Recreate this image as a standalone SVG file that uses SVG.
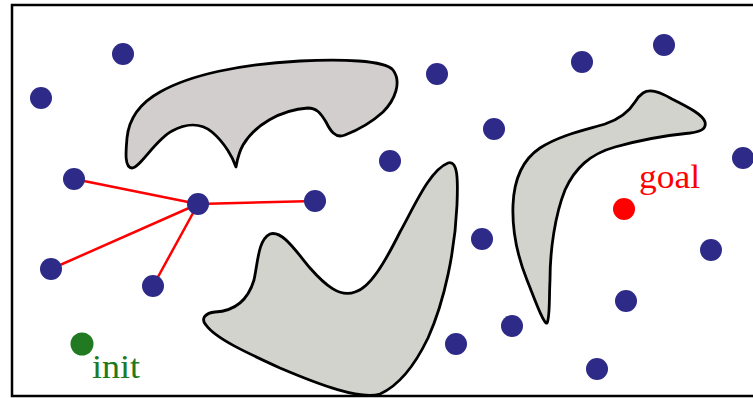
<svg xmlns="http://www.w3.org/2000/svg" width="753" height="398" viewBox="0 0 753 398">
<style>
.n{fill:#2e2b88}
.e{stroke:#ff0000;stroke-width:2.5;fill:none}
.ob1{fill:#d3cece;stroke:#000;stroke-width:2.8;stroke-linejoin:round}
.ob2{fill:#d3d3cd;stroke:#000;stroke-width:2.8;stroke-linejoin:round}
.lbl{font-family:"Liberation Serif",serif;font-size:34px}
</style>
<rect x="0" y="0" width="753" height="398" fill="#fff"/>
<rect x="12" y="5" width="760" height="391" fill="none" stroke="#000" stroke-width="2.5"/>
<g id="obstacles">
<path class="ob1" d="M132,168 C124,168 126,150 127,138 C129,118 140,103 160,92 C190,75 240,64 300,61 C340,59 385,60 393,70 C402,82 395,100 383,112 C372,122 358,130 345,135 C335,139 330,130 326,122 C320,112 316,108 308,108 C280,110 255,125 243,145 C238,154 237,162 236,167 C233,158 225,143 212,132 C200,122 185,124 172,131 C155,140 140,168 132,168 Z"/>
<path class="ob2" d="M448,163 C458,160 458,180 457,205 C455,250 445,300 428,338 C415,365 400,385 380,394 C360,400 320,385 280,368 C245,352 215,338 206,325 C200,318 206,313 215,312 C235,311 248,300 254,280 C258,262 258,240 270,234 C282,230 295,250 310,268 C325,285 340,298 355,292 C370,288 385,262 400,232 C415,205 430,170 448,163 Z"/>
<path class="ob2" d="M643,93 C650,88 660,92 672,99 C690,108 703,115 705,122 C707,130 698,132 690,133 C670,135 640,140 615,147 C590,154 575,168 565,190 C555,215 550,250 550,280 C549,300 550,318 547,323 C544,325 535,300 527,280 C517,255 512,230 513,205 C514,180 522,160 540,148 C560,135 585,130 605,124 C620,119 630,110 635,102 C638,97 640,95 643,93 Z"/>
</g>
<g id="connectors">
<line class="e" x1="198" y1="204" x2="74" y2="179"/>
<line class="e" x1="198" y1="204" x2="315" y2="201"/>
<line class="e" x1="198" y1="204" x2="51" y2="269"/>
<line class="e" x1="198" y1="204" x2="153" y2="286"/>
</g>
<g id="n1"><circle class="n" cx="123" cy="54" r="11"/></g>
<g id="n2"><circle class="n" cx="41" cy="98" r="11"/></g>
<g id="n3"><circle class="n" cx="74" cy="179" r="11"/></g>
<g id="n4"><circle class="n" cx="198" cy="204" r="11"/></g>
<g id="n5"><circle class="n" cx="315" cy="201" r="11"/></g>
<g id="n6"><circle class="n" cx="51" cy="269" r="11"/></g>
<g id="n7"><circle class="n" cx="153" cy="286" r="11"/></g>
<g id="n8"><circle class="n" cx="437" cy="74" r="11"/></g>
<g id="n9"><circle class="n" cx="494" cy="129" r="11"/></g>
<g id="n10"><circle class="n" cx="390" cy="161" r="11"/></g>
<g id="n11"><circle class="n" cx="482" cy="239" r="11"/></g>
<g id="n12"><circle class="n" cx="582" cy="62" r="11"/></g>
<g id="n13"><circle class="n" cx="664" cy="45" r="11"/></g>
<g id="n14"><circle class="n" cx="743" cy="158" r="11"/></g>
<g id="n15"><circle class="n" cx="711" cy="250" r="11"/></g>
<g id="n16"><circle class="n" cx="626" cy="301" r="11"/></g>
<g id="n17"><circle class="n" cx="512" cy="326" r="11"/></g>
<g id="n18"><circle class="n" cx="456" cy="344" r="11"/></g>
<g id="n19"><circle class="n" cx="597" cy="369" r="11"/></g>
<g id="goal"><circle cx="624" cy="209" r="11" fill="#ff0000"/><text class="lbl" x="639" y="188" fill="#ff0000" textLength="61" lengthAdjust="spacingAndGlyphs">goal</text></g>
<g id="init"><circle cx="82" cy="344" r="11.5" fill="#217a21"/><text class="lbl" x="92" y="378" fill="#217a21" textLength="48" lengthAdjust="spacingAndGlyphs">init</text></g>
</svg>
